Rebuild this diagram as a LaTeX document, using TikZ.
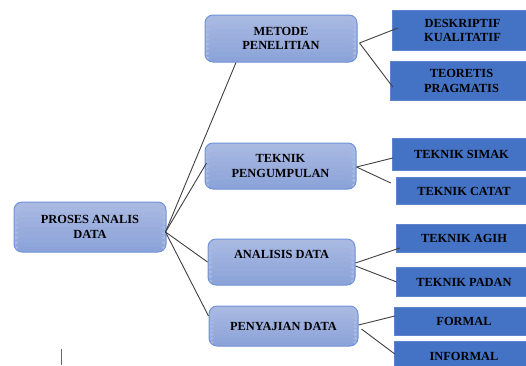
\documentclass[tikz,border=0pt]{standalone}
\usepackage{fontspec}
\setmainfont{Liberation Serif}
\usetikzlibrary{calc}
\definecolor{ltop}{HTML}{A9B9E2}
\definecolor{lbot}{HTML}{8CA3D9}
\definecolor{lborder}{HTML}{7094D6}
\definecolor{dborder}{HTML}{5E86CE}
\definecolor{conncol}{HTML}{404040}
\tikzset{
  lbox/.style={draw=lborder, line width=1pt, rounded corners=8pt, fill=ltop,
    path picture={
      \foreach \i in {0,1,...,9}{
        \pgfmathtruncatemacro\p{\i*11}
        \fill[color=lbot!\p!ltop] ($(path picture bounding box.north west)!{\i/10}!(path picture bounding box.south west)$) rectangle ($(path picture bounding box.north east)!{(\i+1.3)/10}!(path picture bounding box.south east)$);
      }
    },
    align=center, inner sep=0pt, text=black,
    font=\fontsize{12.4}{14.5}\selectfont\bfseries},
  dbox/.style={fill={rgb,255:red,68;green,114;blue,196}, text=black,
    font=\fontsize{12.4}{14.5}\selectfont\bfseries},
  dtwo/.style={dbox, align=center},
  dedge/.style={draw=dborder, line width=0.8pt},
  conn/.style={draw=conncol, line width=0.9pt}
}
\begin{document}
\begin{tikzpicture}[x=1pt,y=-1pt]
\useasboundingbox (0,0) rectangle (526,365);
% level 3
\node[dtwo, minimum width=139pt, minimum height=39pt] (des) at (462.5,30.5) {DESKRIPTIF\\KUALITATIF};
\node[dtwo, minimum width=141pt, minimum height=38pt] (teo) at (461.5,81) {TEORETIS\\PRAGMATIS};
\node[dbox, minimum width=137pt, minimum height=31pt] (sim) at (461.5,154.5) {TEKNIK SIMAK};
\node[dbox, minimum width=134pt, minimum height=27pt] (cat) at (464,191) {TEKNIK CATAT};
\node[dbox, minimum width=134pt, minimum height=27pt] (agi) at (464,238.5) {TEKNIK AGIH};
\node[dbox, minimum width=134pt, minimum height=28pt] (pad) at (464,282) {TEKNIK PADAN};
\node[dbox, minimum width=138pt, minimum height=27pt] (for) at (464,321.5) {FORMAL};
\node[dbox, minimum width=138pt, minimum height=28pt] (inf) at (464,356) {INFORMAL};
\foreach \n in {des,teo,sim,cat,agi,pad,for,inf}
  \draw[dedge] (\n.south west) rectangle (\n.north east);
% level 1
\node[lbox, minimum width=152pt, minimum height=50pt] (root) at (90,227) {PROSES ANALIS\\DATA};
% level 2
\node[lbox, minimum width=152pt, minimum height=47pt] (met) at (281,38.5) {METODE\\PENELITIAN};
\node[lbox, minimum width=151pt, minimum height=46pt] (tp) at (280.5,166) {TEKNIK\\PENGUMPULAN};
\node[lbox, minimum width=147pt, minimum height=46pt] (an) at (281.5,262) {ANALISIS DATA\\\mbox{}};
\node[lbox, minimum width=149pt, minimum height=40pt] (pen) at (283.5,326) {PENYAJIAN DATA};
% connectors root
\coordinate (rj) at ($(root.east)+(-1,5)$);
\draw[conn] (rj) -- ($(met.south)+(-45,0)$);
\draw[conn] (rj) -- ($(tp.west)+(2,-3)$);
\draw[conn] (rj) -- (an.west);
\draw[conn] (rj) -- ($(pen.west)+(0,-10)$);
% connectors metode
\coordinate (mj) at ($(met.east)+(2,4.5)$);
\draw[conn] (mj) -- ($(des.west)+(5,-2.5)$);
\draw[conn] (mj) -- ($(teo.west)+(2,6)$);
% connectors pengumpulan
\coordinate (tj) at ($(tp.east)+(0,1)$);
\draw[conn] (tj) -- ($(sim.west)+(0,3.5)$);
\draw[conn] (tj) -- ($(cat.west)+(-6,-8)$);
% connectors analisis
\draw[conn] ($(an.east)+(0,1)$) -- ($(agi.west)+(3,9.5)$);
\draw[conn] ($(an.east)+(0,4)$) -- (pad.west);
% connectors penyajian
\draw[conn] ($(pen.east)+(0,-1)$) -- ($(for.west)+(0,-5.5)$);
\draw[conn] ($(pen.east)+(3,3)$) -- ($(inf.west)+(0,-2)$);
% text cursor mark
\coordinate (cur1) at (61,349);
\coordinate (cur2) at (61,365);
\draw[draw=gray!80!black, line width=0.8pt] (cur1) -- (cur2);
\end{tikzpicture}
\end{document}
